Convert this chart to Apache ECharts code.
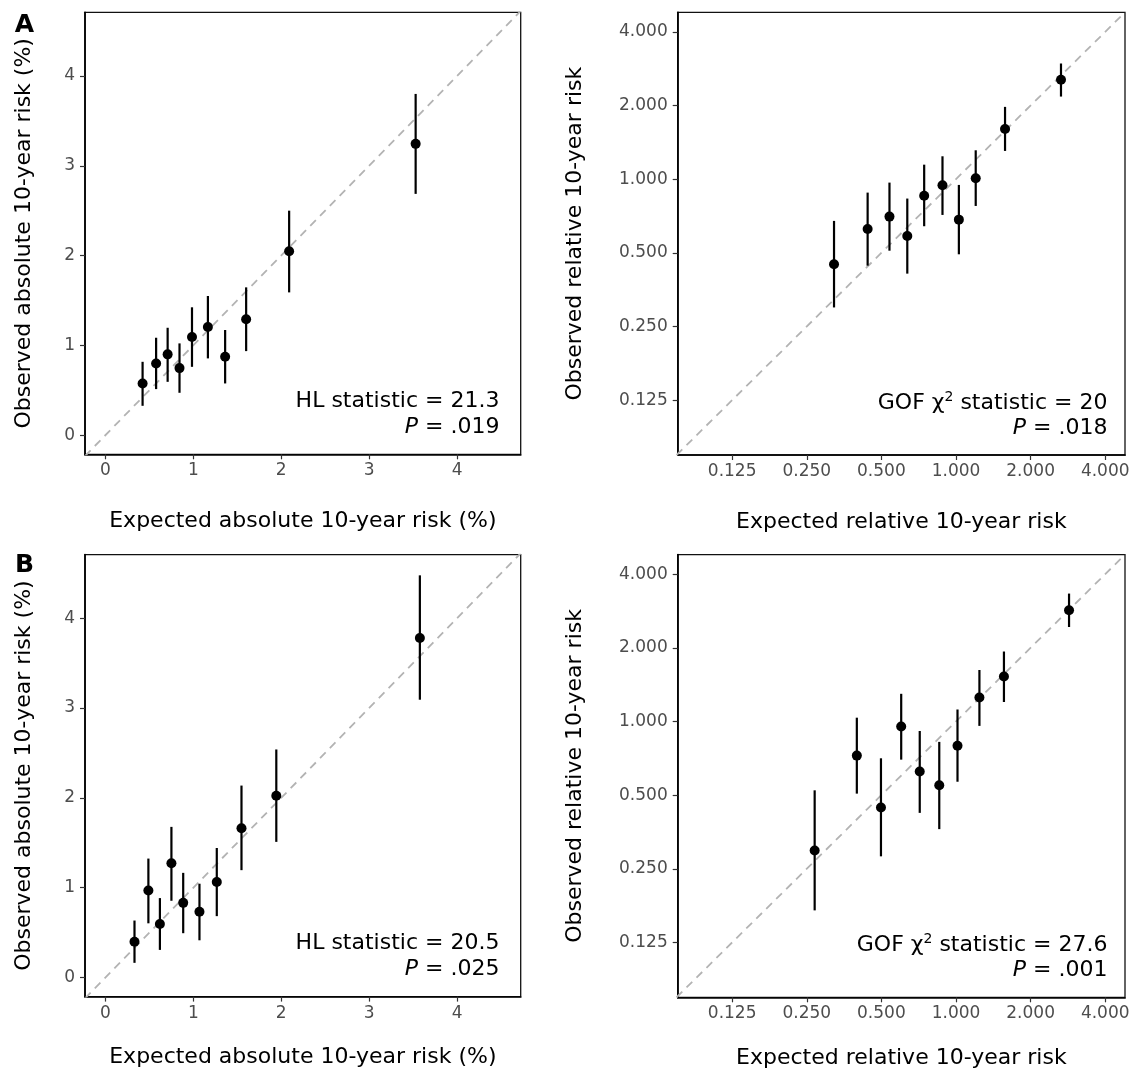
<!DOCTYPE html>
<html><head><meta charset="utf-8">
<script src="https://cdn.jsdelivr.net/npm/echarts@6/dist/echarts.min.js"></script>
<style>html,body{margin:0;padding:0;background:#fff}#c{width:1134px;height:1074px}</style>
</head><body><div id="c"></div>
<script>
// ---- Panel A, absolute risk (%) ----
const expA = [0.423, 0.577, 0.708, 0.843, 0.985, 1.166, 1.362, 1.601, 2.090, 3.529];
const obsA = [0.576, 0.799, 0.900, 0.747, 1.093, 1.204, 0.873, 1.290, 2.048, 3.244];
const loA  = [0.327, 0.513, 0.594, 0.472, 0.761, 0.855, 0.576, 0.936, 1.590, 2.687];
const hiA  = [0.817, 1.085, 1.196, 1.022, 1.424, 1.550, 1.171, 1.646, 2.500, 3.800];
// ---- Panel A, relative risk ----
const expAr = [0.322, 0.440, 0.539, 0.636, 0.744, 0.882, 1.027, 1.201, 1.577, 2.652];
const obsAr = [0.449, 0.626, 0.703, 0.586, 0.856, 0.944, 0.683, 1.008, 1.604, 2.546];
const loAr  = [0.299, 0.443, 0.510, 0.411, 0.642, 0.714, 0.493, 0.777, 1.304, 2.175];
const hiAr  = [0.675, 0.881, 0.968, 0.833, 1.146, 1.240, 0.947, 1.312, 1.974, 2.969];
// ---- Panel B, absolute risk (%) ----
const expB = [0.331, 0.489, 0.620, 0.751, 0.885, 1.070, 1.267, 1.548, 1.944, 3.577];
const obsB = [0.398, 0.968, 0.596, 1.271, 0.831, 0.732, 1.063, 1.662, 2.023, 3.780];
const loB  = [0.163, 0.603, 0.307, 0.854, 0.493, 0.414, 0.683, 1.195, 1.510, 3.093];
const hiB  = [0.634, 1.324, 0.884, 1.677, 1.165, 1.044, 1.442, 2.137, 2.539, 4.478];
// ---- Panel B, relative risk ----
const expBr = [0.269, 0.398, 0.498, 0.601, 0.714, 0.856, 1.014, 1.243, 1.561, 2.858];
const obsBr = [0.297, 0.725, 0.445, 0.953, 0.624, 0.549, 0.796, 1.252, 1.527, 2.846];
const loBr  = [0.169, 0.507, 0.281, 0.698, 0.423, 0.363, 0.567, 0.959, 1.201, 2.432];
const hiBr  = [0.523, 1.036, 0.707, 1.297, 0.914, 0.825, 1.119, 1.623, 1.931, 3.331];

// ---- tick labels / axis ranges ----
const linTicks = [0, 1, 2, 3, 4];
const logTicks = [0.125, 0.25, 0.5, 1, 2, 4];
const linRangeX = [-0.232, 4.724];
const linRangeY = [-0.213, 4.709];
const logRangeX = [-3.73, 2.265];   // log2 units
const logRangeY = [-3.745, 2.265];  // log2 units

const statA = ['HL statistic = 21.3', '{i|P} = .019'];
const statAr = ['GOF χ{s|2} statistic = 20', '{i|P} = .018'];
const statB = ['HL statistic = 20.5', '{i|P} = .025'];
const statBr = ['GOF χ{s|2} statistic = 27.6', '{i|P} = .001'];

const xNameAbs = 'Expected absolute 10-year risk (%)';
const yNameAbs = 'Observed absolute 10-year risk (%)';
const xNameRel = 'Expected relative 10-year risk';
const yNameRel = 'Observed relative 10-year risk';

const FONT = 'DejaVu Sans';
const ident = v => v;
const lg = v => Math.log2(v);

const panels = [
  {grid:{left:85, top:12.3, width:435.7, height:442}, log:false, exp:expA, obs:obsA, lo:loA, hi:hiA,
   xName:xNameAbs, yName:yNameAbs, xGap:56, yGap:50, stat:statA, tx:499.4, ty:[401.2,427.5]},
  {grid:{left:677.7, top:12.3, width:447.3, height:442.7}, log:true, exp:expAr, obs:obsAr, lo:loAr, hi:hiAr,
   xName:xNameRel, yName:yNameRel, xGap:56, yGap:91, stat:statAr, tx:1107.4, ty:[402.9,427.9]},
  {grid:{left:85, top:554.6, width:435.7, height:442}, log:false, exp:expB, obs:obsB, lo:loB, hi:hiB,
   xName:xNameAbs, yName:yNameAbs, xGap:50, yGap:50, stat:statB, tx:499.4, ty:[943,969.5]},
  {grid:{left:677.7, top:554.6, width:447.3, height:442.7}, log:true, exp:expBr, obs:obsBr, lo:loBr, hi:hiBr,
   xName:xNameRel, yName:yNameRel, xGap:50, yGap:91, stat:statBr, tx:1107.4, ty:[945,970]}
];

function makeAxis(i, range, ticksRaw, log, name, gap, isY) {
  const t = log ? lg : ident;
  const vals = ticksRaw.map(t);
  return {
    type: 'value', gridIndex: i, min: range[0], max: range[1],
    name: name, nameLocation: 'middle', nameGap: gap,
    nameTextStyle: {fontFamily: FONT, fontSize: 22, color: '#000'},
    splitLine: {show: false},
    axisLine: {show: true, onZero: false, lineStyle: {color: '#000', width: 1.7}},
    axisTick: {show: true, customValues: vals, length: 5, lineStyle: {color: '#333', width: 1.2}},
    axisLabel: {show: true, customValues: vals, margin: isY ? 10 : 8,
      fontFamily: FONT, fontSize: 17, color: '#4d4d4d',
      formatter: v => log ? Math.pow(2, v).toFixed(3) : String(Math.round(v))}
  };
}

const grids = [], xAxes = [], yAxes = [], series = [], graphics = [];
panels.forEach((p, i) => {
  grids.push(Object.assign({show: true, borderColor: '#111', borderWidth: 1.3, containLabel: false, outerBoundsMode: 'none'}, p.grid));
  const xr = p.log ? logRangeX : linRangeX;
  const yr = p.log ? logRangeY : linRangeY;
  const ticks = p.log ? logTicks : linTicks;
  xAxes.push(makeAxis(i, xr, ticks, p.log, p.xName, p.xGap, false));
  yAxes.push(makeAxis(i, yr, ticks, p.log, p.yName, p.yGap, true));
  const t = p.log ? lg : ident;
  const dLo = Math.min(xr[0], yr[0]), dHi = Math.max(xr[1], yr[1]);
  series.push({
    type: 'line', xAxisIndex: i, yAxisIndex: i, data: [[dLo, dLo], [dHi, dHi]],
    symbol: 'none', clip: true, silent: true, z: 1,
    lineStyle: {color: '#b3b3b3', width: 1.8, type: [8, 6]}
  });
  series.push({
    type: 'custom', xAxisIndex: i, yAxisIndex: i, z: 2, silent: true,
    data: p.exp.map((e, k) => [t(e), t(p.lo[k]), t(p.hi[k])]),
    encode: {x: 0, y: [1, 2]},
    renderItem: (params, api) => {
      const a = api.coord([api.value(0), api.value(1)]);
      const b = api.coord([api.value(0), api.value(2)]);
      return {type: 'line', shape: {x1: a[0], y1: a[1], x2: b[0], y2: b[1]},
              style: {stroke: '#000', lineWidth: 2.2}};
    }
  });
  series.push({
    type: 'scatter', xAxisIndex: i, yAxisIndex: i, z: 3, silent: true,
    data: p.exp.map((e, k) => [t(e), t(p.obs[k])]),
    symbol: 'circle', symbolSize: 10, itemStyle: {color: '#000', opacity: 1}
  });
  const rich = {
    i: {fontStyle: 'italic', fontFamily: FONT, fontSize: 22, lineHeight: 26, fill: '#000'},
    s: {fontFamily: FONT, fontSize: 14, lineHeight: 12, verticalAlign: 'top', fill: '#000'}
  };
  p.stat.forEach((txt, k) => {
    graphics.push({
      type: 'text', x: p.tx, y: p.ty[k], silent: true, z: 10,
      style: {text: txt, rich: rich, fontFamily: FONT, fontSize: 22, lineHeight: 26,
              fill: '#000', align: 'right', verticalAlign: 'middle'}
    });
  });
});

graphics.push({type: 'text', x: 24.5, y: 25, style: {text: 'A', fontFamily: FONT, fontWeight: 'bold', fontSize: 25, fill: '#000', align: 'center', verticalAlign: 'middle'}});
graphics.push({type: 'text', x: 24.5, y: 565, style: {text: 'B', fontFamily: FONT, fontWeight: 'bold', fontSize: 25, fill: '#000', align: 'center', verticalAlign: 'middle'}});

const chart = echarts.init(document.getElementById('c'), null, {renderer: 'canvas'});
chart.setOption({
  animation: false,
  backgroundColor: '#fff',
  grid: grids, xAxis: xAxes, yAxis: yAxes, series: series, graphic: graphics
});
</script></body></html>
